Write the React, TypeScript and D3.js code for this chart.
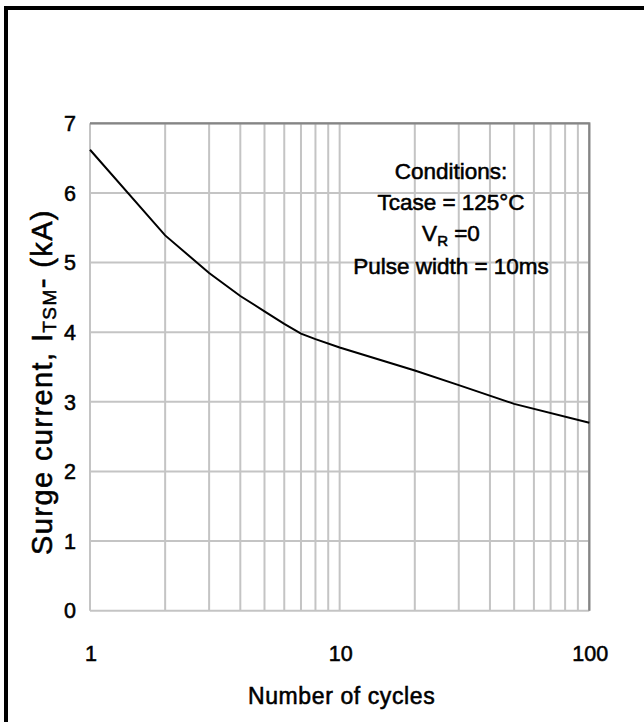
import React, { useEffect, useRef } from "react";
import * as d3 from "d3";

// surge current curve
const cycles: number[] = [1, 2, 3, 4, 5, 6, 7, 8, 10, 20, 30, 50, 100];
const surgeKA: number[] = [6.62, 5.39, 4.85, 4.52, 4.3, 4.12, 3.98, 3.9, 3.78, 3.45, 3.24, 2.97, 2.7];

const yTicks: number[] = [0, 1, 2, 3, 4, 5, 6, 7];
const xTickLabels: number[] = [1, 10, 100];
const xGrid: number[] = [1, 2, 3, 4, 5, 6, 7, 8, 9, 10, 20, 30, 40, 50, 60, 70, 80, 90, 100];

const conditions: string[] = ["Conditions:", "Tcase = 125°C", "V_R =0", "Pulse width = 10ms"];

const App: React.FC = () => {
  const svgRef = useRef<SVGSVGElement | null>(null);

  useEffect(() => {
    const svg = d3.select(svgRef.current);
    svg.selectAll("*").remove();
    const width = 644;
    const height = 722;
    const margin = { top: 123.3, right: 54.7, bottom: 111.3, left: 90 };
    const font = "'Liberation Sans', Arial, sans-serif";

    svg.attr("width", width).attr("height", height);

    // outer black frame (right / bottom edges run off the page)
    svg.append("rect")
      .attr("x", 6)
      .attr("y", 8)
      .attr("width", 720)
      .attr("height", 800)
      .attr("fill", "white")
      .attr("stroke", "black")
      .attr("stroke-width", 4);

    const x = d3.scaleLog().domain([1, 100]).range([margin.left, width - margin.right]);
    const y = d3.scaleLinear().domain([0, 7]).range([height - margin.bottom, margin.top]);

    const grid = svg.append("g");
    grid.selectAll(".vgrid")
      .data(xGrid)
      .enter()
      .append("line")
      .attr("x1", (d) => x(d))
      .attr("x2", (d) => x(d))
      .attr("y1", y(0))
      .attr("y2", y(7))
      .attr("stroke", "#c4c4c4")
      .attr("stroke-width", 2);

    grid.selectAll(".hgrid")
      .data(yTicks)
      .enter()
      .append("line")
      .attr("x1", x(1))
      .attr("x2", x(100))
      .attr("y1", (d) => y(d))
      .attr("y2", (d) => y(d))
      .attr("stroke", "#c4c4c4")
      .attr("stroke-width", 2);

    // darker top and right edges
    svg.append("path")
      .attr("d", `M${x(1)},${y(7)} H${x(100)} V${y(0)}`)
      .attr("fill", "none")
      .attr("stroke", "#858585")
      .attr("stroke-width", 2.2);

    // curve
    const line = d3.line<number>()
      .x((_, i) => x(cycles[i]))
      .y((d) => y(d));

    svg.append("path")
      .datum(surgeKA)
      .attr("d", line)
      .attr("fill", "none")
      .attr("stroke", "black")
      .attr("stroke-width", 2);

    // text looks slightly heavier than plain regular in the reference
    const heavy = (sel: any) =>
      sel.style("font-family", font).attr("fill", "black").attr("stroke", "black").attr("stroke-width", 0.55);

    // y tick labels
    svg.selectAll(".ylab")
      .data(yTicks)
      .enter()
      .append("text")
      .attr("x", 76)
      .attr("y", (d) => y(d))
      .attr("dy", "0.36em")
      .attr("text-anchor", "end")
      .call(heavy)
      .style("font-size", "21.5px")
      .text((d) => d);

    // x tick labels
    svg.selectAll(".xlab")
      .data(xTickLabels)
      .enter()
      .append("text")
      .attr("x", (d) => x(d) + 1)
      .attr("y", 661)
      .attr("text-anchor", "middle")
      .call(heavy)
      .style("font-size", "21.5px")
      .text((d) => d);

    // x axis title
    svg.append("text")
      .attr("x", x(10) + 2)
      .attr("y", 704)
      .attr("text-anchor", "middle")
      .call(heavy)
      .style("font-size", "23px")
      .style("letter-spacing", "0.6px")
      .text("Number of cycles");

    // y axis title
    svg.append("text")
      .attr("transform", `translate(52, 382) rotate(-90)`)
      .attr("text-anchor", "middle")
      .call(heavy)
      .style("font-size", "29px")
      .style("letter-spacing", "1.4px")
      .html(`Surge current, I<tspan font-size="19px" dy="4">TSM</tspan><tspan dy="-4">- (kA)</tspan>`);

    // conditions box text
    const cx = 451;
    const rows = [179, 210, 241, 274];
    conditions.forEach((t, i) => {
      const txt = svg.append("text")
        .attr("x", cx)
        .attr("y", rows[i])
        .attr("text-anchor", "middle")
        .call(heavy)
        .style("font-size", "22.5px");
      if (t.startsWith("V_R")) {
        txt.html(`V<tspan font-size="15px" dy="5">R</tspan><tspan dy="-5"> =0</tspan>`);
      } else {
        txt.text(t);
      }
    });
  }, []);

  return (
    <svg
      ref={svgRef}
      style={{ position: "absolute", top: 0, left: 0, display: "block", background: "white" }}
    />
  );
};

export default App;
